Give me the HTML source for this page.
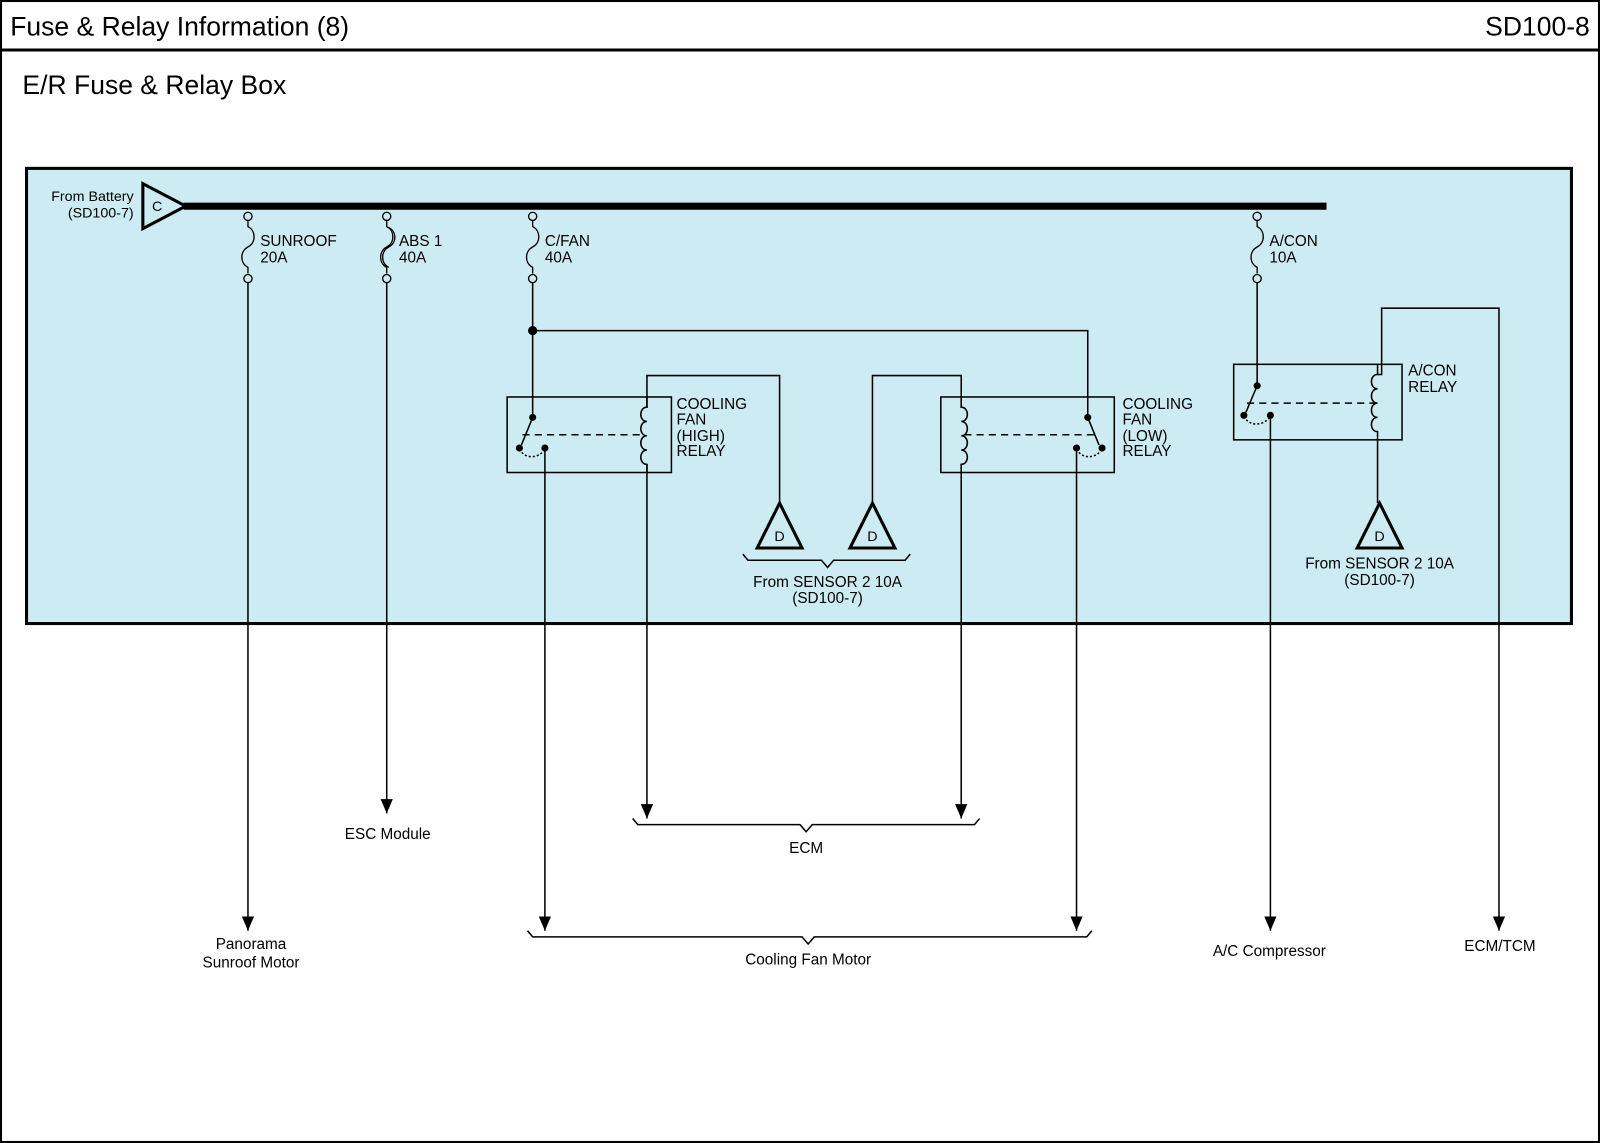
<!DOCTYPE html>
<html><head><meta charset="utf-8"><style>
html,body{margin:0;padding:0;background:#fff;}
svg{display:block;font-family:"Liberation Sans",Arial,sans-serif;}
</style></head><body>
<svg width="1600" height="1143" viewBox="0 0 1568 1120" preserveAspectRatio="none" xmlns="http://www.w3.org/2000/svg">
<defs>
<marker id="ar" viewBox="0 0 14 12" refX="14" refY="6" markerWidth="14" markerHeight="12" markerUnits="userSpaceOnUse" orient="auto">
<path d="M0,0 L14,6 L0,12 Z" fill="#000"/>
</marker>
</defs>
<rect x="1" y="1" width="1566" height="1118" fill="#fff" stroke="#000" stroke-width="2"/>
<line x1="0" y1="49" x2="1568" y2="49" stroke="#000" stroke-width="3"/>
<text x="10" y="35" font-size="26">Fuse &amp; Relay Information (8)</text>
<text x="1558" y="35" font-size="26" text-anchor="end">SD100-8</text>
<text x="22" y="92" font-size="26">E/R Fuse &amp; Relay Box</text>

<rect x="26" y="165" width="1514" height="446" fill="#cdebf2" stroke="#000" stroke-width="3"/>

<g fill="none" stroke="#000" stroke-width="1.5">
<line x1="180" y1="202" x2="1300" y2="202" stroke-width="7"/>
<polygon points="140,180 140,224 182,202" stroke-width="3" fill="#cdebf2"/>
</g>
<text x="154" y="207" font-size="14" text-anchor="middle">C</text>
<text x="131" y="197" font-size="14" text-anchor="end">From Battery</text>
<text x="131" y="213" font-size="14" text-anchor="end">(SD100-7)</text>

<g fill="none" stroke="#000" stroke-width="1.3">
<circle cx="243" cy="212" r="4"/>
<path d="M243,216 L243,222 C251,226 251,238 243,242 C235,246 235,258 243,262 L243,268"/>
<circle cx="243" cy="273" r="4"/>
<circle cx="379" cy="212" r="4"/>
<path d="M379,216 L379,222 C387,226 387,238 379,242 C371,246 371,258 379,262 L379,268"/>
<path d="M381,223 C389,227 389,238 381,242 C373,246 373,258 381,262"/>
<circle cx="379" cy="273" r="4"/>
<circle cx="522" cy="212" r="4"/>
<path d="M522,216 L522,222 C530,226 530,238 522,242 C514,246 514,258 522,262 L522,268"/>
<circle cx="522" cy="273" r="4"/>
<circle cx="1232" cy="212" r="4"/>
<path d="M1232,216 L1232,222 C1240,226 1240,238 1232,242 C1224,246 1224,258 1232,262 L1232,268"/>
<circle cx="1232" cy="273" r="4"/>
</g>
<g font-size="15">
<text x="255" y="241">SUNROOF</text><text x="255" y="257">20A</text>
<text x="391" y="241">ABS 1</text><text x="391" y="257">40A</text>
<text x="534" y="241">C/FAN</text><text x="534" y="257">40A</text>
<text x="1244" y="241">A/CON</text><text x="1244" y="257">10A</text>
</g>

<g fill="none" stroke="#000" stroke-width="1.5">
<line x1="243" y1="277" x2="243" y2="912" marker-end="url(#ar)"/>
<line x1="379" y1="277" x2="379" y2="797" marker-end="url(#ar)"/>
<line x1="522" y1="277" x2="522" y2="409"/>
<polyline points="522,324 1066,324 1066,409"/>
<rect x="497" y="389" width="161" height="74"/>
<line x1="522" y1="409" x2="511" y2="436"/>
<line x1="512" y1="426" x2="632" y2="426" stroke-dasharray="7,5"/>
<path d="M509,440 C514,450 528,450 534,440" stroke-dasharray="2,2"/>
<path d="M634,389 L634,399 C626,399 626,413 634,413 C626,413 626,427 634,427 C626,427 626,441 634,441 C626,441 626,455 634,455 L634,463"/>
<polyline points="634,399 634,368 764,368 764,493"/>
<line x1="634" y1="455" x2="634" y2="802" marker-end="url(#ar)"/>
<line x1="534" y1="439" x2="534" y2="912" marker-end="url(#ar)"/>
<rect x="922" y="389" width="170" height="74"/>
<line x1="1066" y1="409" x2="1077" y2="436"/>
<line x1="945" y1="426" x2="1075" y2="426" stroke-dasharray="7,5"/>
<path d="M1055,440 C1060,450 1074,450 1080,440" stroke-dasharray="2,2"/>
<path d="M942,389 L942,399 C950,399 950,413 942,413 C950,413 950,427 942,427 C950,427 950,441 942,441 C950,441 950,455 942,455 L942,463"/>
<polyline points="942,399 942,368 855,368 855,493"/>
<line x1="942" y1="455" x2="942" y2="802" marker-end="url(#ar)"/>
<line x1="1055" y1="439" x2="1055" y2="912" marker-end="url(#ar)"/>
<line x1="1232" y1="277" x2="1232" y2="378"/>
<rect x="1209" y="357" width="165" height="74"/>
<line x1="1232" y1="378" x2="1221" y2="404"/>
<line x1="1222" y1="395" x2="1348" y2="395" stroke-dasharray="7,5"/>
<path d="M1219,408 C1224,418 1238,418 1245,408" stroke-dasharray="2,2"/>
<path d="M1350,357 L1350,367 C1342,367 1342,381 1350,381 C1342,381 1342,395 1350,395 C1342,395 1342,409 1350,409 C1342,409 1342,423 1350,423 L1350,493"/>
<polyline points="1350,367 1354,367 1354,302 1469,302 1469,912" marker-end="url(#ar)"/>
<line x1="1245" y1="407" x2="1245" y2="912" marker-end="url(#ar)"/>
<polygon points="764,493 742,537 786,537" stroke-width="3"/>
<polygon points="855,493 833,537 877,537" stroke-width="3"/>
<polygon points="1352,493 1330,537 1374,537" stroke-width="3"/>
<path d="M728,543 L733,549 L805,549 L811,556 L817,549 L887,549 L892,543"/>
<path d="M620,802 L625,808 L784,808 L790,815 L796,808 L955,808 L960,802"/>
<path d="M517,912 L522,918 L786,918 L792,925 L798,918 L1065,918 L1070,912"/>
</g>
<g fill="#000">
<circle cx="522" cy="324" r="4.5"/>
<circle cx="522" cy="409" r="3.5"/><circle cx="509" cy="439" r="3.5"/><circle cx="534" cy="439" r="3.5"/>
<circle cx="1066" cy="409" r="3.5"/><circle cx="1080" cy="439" r="3.5"/><circle cx="1055" cy="439" r="3.5"/>
<circle cx="1232" cy="378" r="3.5"/><circle cx="1219" cy="407" r="3.5"/><circle cx="1245" cy="407" r="3.5"/>
</g>
<g font-size="15">
<text x="764" y="530" text-anchor="middle" font-size="14">D</text>
<text x="855" y="530" text-anchor="middle" font-size="14">D</text>
<text x="1352" y="530" text-anchor="middle" font-size="14">D</text>
<text x="663" y="401">COOLING</text><text x="663" y="416">FAN</text><text x="663" y="432">(HIGH)</text><text x="663" y="447">RELAY</text>
<text x="1100" y="401">COOLING</text><text x="1100" y="416">FAN</text><text x="1100" y="432">(LOW)</text><text x="1100" y="447">RELAY</text>
<text x="1380" y="368">A/CON</text><text x="1380" y="384">RELAY</text>
<text x="811" y="575" text-anchor="middle">From SENSOR 2 10A</text>
<text x="811" y="591" text-anchor="middle">(SD100-7)</text>
<text x="1352" y="557" text-anchor="middle">From SENSOR 2 10A</text>
<text x="1352" y="573" text-anchor="middle">(SD100-7)</text>
<text x="380" y="822" text-anchor="middle">ESC Module</text>
<text x="246" y="930" text-anchor="middle">Panorama</text>
<text x="246" y="948" text-anchor="middle">Sunroof Motor</text>
<text x="790" y="836" text-anchor="middle">ECM</text>
<text x="792" y="945" text-anchor="middle">Cooling Fan Motor</text>
<text x="1244" y="937" text-anchor="middle">A/C Compressor</text>
<text x="1470" y="932" text-anchor="middle">ECM/TCM</text>
</g>
</svg>
</body></html>
